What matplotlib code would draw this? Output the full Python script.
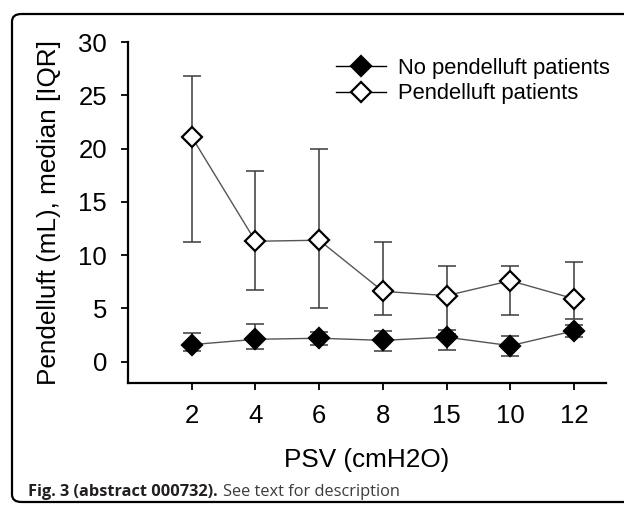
"""Pendelluft vs PSV level, median [IQR] (Fig. 3, abstract 000732)."""

import matplotlib

matplotlib.use("Agg")
import matplotlib.pyplot as plt
from matplotlib.patches import FancyBboxPatch

# PSV levels, in the order they appear on the x axis
PSV_LABELS = ["2", "4", "6", "8", "15", "10", "12"]

# no pendelluft patients: median, 25th and 75th percentile
NO_PEND_MED = [1.6, 2.1, 2.2, 2.0, 2.3, 1.5, 2.9]
NO_PEND_Q1 = [1.0, 1.2, 1.6, 1.0, 1.1, 0.5, 2.3]
NO_PEND_Q3 = [2.7, 3.5, 2.8, 2.9, 3.0, 2.4, 3.4]

# pendelluft patients
PEND_MED = [21.1, 11.3, 11.4, 6.6, 6.2, 7.6, 5.9]
PEND_Q1 = [11.2, 6.7, 5.0, 4.4, 2.6, 4.4, 4.0]
PEND_Q3 = [26.8, 17.9, 20.0, 11.2, 9.0, 9.0, 9.4]

YTICKS = [0, 5, 10, 15, 20, 25, 30]

plt.rcParams["font.family"] = ["Liberation Sans", "DejaVu Sans"]

fig = plt.figure(figsize=(6.24, 5.05), dpi=100)
ax = fig.add_axes([128 / 624, 1 - 383 / 505, (606 - 128) / 624, (383 - 42) / 505])

xs = list(range(len(PSV_LABELS)))


def draw_series(med, q1, q3, face, label):
    err = [[m - lo for m, lo in zip(med, q1)], [hi - m for m, hi in zip(med, q3)]]
    ax.errorbar(xs, med, yerr=err, fmt="none", ecolor="#3a3a3a", elinewidth=1.1,
                capsize=6.5, capthick=1.1, zorder=2)
    ax.plot(xs, med, color="#555555", lw=1.0, zorder=3)
    ax.plot(xs, med, ls="none", marker="D", ms=10.5, mfc=face, mec="black",
            mew=1.6, zorder=4)
    # legend handle: line with marker
    return ax.plot([], [], color="black", lw=1.0, marker="D", ms=10.5, mfc=face,
                   mec="black", mew=1.6, label=label)[0]


h1 = draw_series(NO_PEND_MED, NO_PEND_Q1, NO_PEND_Q3, "black", "No pendelluft patients")
h2 = draw_series(PEND_MED, PEND_Q1, PEND_Q3, "white", "Pendelluft patients")

ax.set_xlim(-1, 6.5)
ax.set_ylim(-2, 30)
ax.set_xticks(xs, PSV_LABELS)
ax.set_yticks(YTICKS)
ax.tick_params(axis="both", direction="out", length=5, width=1.3, labelsize=18.5, pad=10,
               color="black")
for side in ("top", "right"):
    ax.spines[side].set_visible(False)
for side in ("left", "bottom"):
    ax.spines[side].set_linewidth(1.6)
ax.spines["left"].set_bounds(-2, 30)

ax.set_ylabel("Pendelluft (mL), median [IQR]", fontsize=18.8)
ax.yaxis.set_label_coords(-0.14, 0.5)
ax.set_xlabel("PSV (cmH2O)", fontsize=18.8)
ax.xaxis.set_label_coords(0.5, -0.19)

ax.legend(handles=[h1, h2], loc="upper left", bbox_to_anchor=(336 / 624, 1 - 58 / 505),
          bbox_transform=fig.transFigure, frameon=False, fontsize=15.8, borderpad=0,
          borderaxespad=0, handlelength=2.3, handletextpad=0.54, labelspacing=0.2)

# caption
cap = fig.text(28 / 624, 1 - 496 / 505, "Fig. 3 (abstract 000732).", fontsize=11.8,
               fontweight="bold", family="Open Sans", color="#231f20", va="baseline")
ax.annotate("See text for description", xy=(1, 0), xycoords=cap, xytext=(4, 0),
            textcoords="offset points", fontsize=11.8, family="Open Sans",
            color="#3c3c3c", va="bottom", annotation_clip=False)

# rounded frame around the figure (right side runs off the image)
frame = FancyBboxPatch((12 / 624, 1 - 502 / 505), 640 / 624, (502 - 14) / 505,
                       boxstyle="round,pad=0,rounding_size=0.015",
                       transform=fig.transFigure, fill=False, ec="black", lw=1.6,
                       clip_on=False)
fig.patches.append(frame)

fig.savefig("out.png", dpi=100)
